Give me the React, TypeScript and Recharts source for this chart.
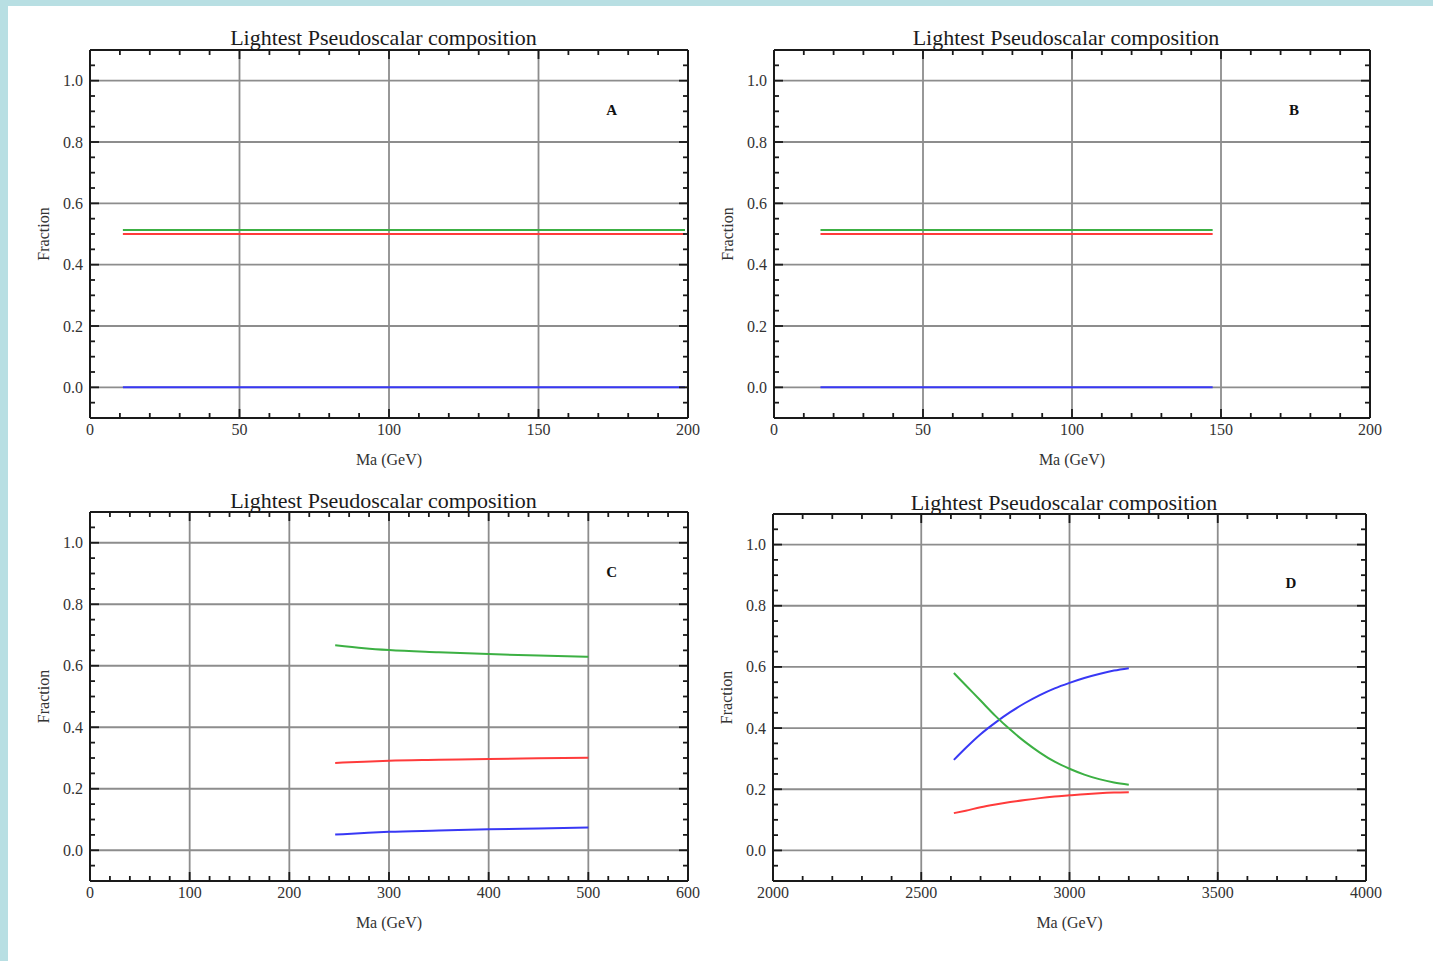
import React from 'react';
import { LineChart, Line, XAxis, YAxis, CartesianGrid, ReferenceDot } from 'recharts';

const SERIF = '"Liberation Serif", "Times New Roman", serif';
const GREEN = '#3cb043';
const RED = '#ff3b3b';
const BLUE = '#3838f5';
const FRAME = '#1a1a1a';
const GRID = '#8d8d8d';
const TEXT = '#333333';
const PAGE_EDGE = '#b8dfe3';

const TITLE = 'Lightest Pseudoscalar composition';
const X_LABEL = 'Ma (GeV)';
const Y_LABEL = 'Fraction';

// Fraction axis, shared by all four panels
const fracMajor = [0, 0.2, 0.4, 0.6, 0.8, 1.0];
const fracMinor = [-0.05, 0.05, 0.1, 0.15, 0.25, 0.3, 0.35, 0.45, 0.5, 0.55, 0.65, 0.7, 0.75, 0.85, 0.9, 0.95, 1.05];

// Panel A
const maA = [11, 199];
const greenA = [0.513, 0.513];
const redA = [0.5, 0.5];
const blueA = [0, 0];
const xMajorA = [0, 50, 100, 150, 200];
const xMinorA = [10, 20, 30, 40, 60, 70, 80, 90, 110, 120, 130, 140, 160, 170, 180, 190];

// Panel B
const maB = [15.6, 147.2];
const greenB = [0.513, 0.513];
const redB = [0.5, 0.5];
const blueB = [0, 0];
const xMajorB = [0, 50, 100, 150, 200];
const xMinorB = [10, 20, 30, 40, 60, 70, 80, 90, 110, 120, 130, 140, 160, 170, 180, 190];

// Panel C
const maC = [246, 275, 300, 350, 400, 450, 500];
const greenC = [0.667, 0.657, 0.651, 0.644, 0.638, 0.633, 0.629];
const redC = [0.284, 0.288, 0.291, 0.294, 0.297, 0.299, 0.301];
const blueC = [0.051, 0.056, 0.06, 0.064, 0.068, 0.071, 0.074];
const xMajorC = [0, 100, 200, 300, 400, 500, 600];
const xMinorC = [20, 40, 60, 80, 120, 140, 160, 180, 220, 240, 260, 280, 320, 340, 360, 380, 420, 440, 460, 480, 520, 540, 560, 580];

// Panel D
const maD = [2610, 2650, 2700, 2750, 2800, 2850, 2900, 2950, 3000, 3050, 3100, 3150, 3200];
const greenD = [0.58, 0.54, 0.49, 0.44, 0.395, 0.355, 0.32, 0.29, 0.267, 0.248, 0.233, 0.222, 0.215];
const redD = [0.122, 0.13, 0.141, 0.15, 0.158, 0.165, 0.171, 0.176, 0.18, 0.184, 0.187, 0.189, 0.19];
const blueD = [0.296, 0.335, 0.38, 0.418, 0.452, 0.482, 0.508, 0.53, 0.548, 0.564, 0.577, 0.588, 0.596];
const xMajorD = [2000, 2500, 3000, 3500, 4000];
const xMinorD = [2100, 2200, 2300, 2400, 2600, 2700, 2800, 2900, 3100, 3200, 3300, 3400, 3600, 3700, 3800, 3900];

const rows = (xs: number[], ys: number[]) => xs.map((x, i) => ({ x, y: ys[i] }));

type Side = 'bottom' | 'top' | 'left' | 'right';

// Frame ticks point inward; only the bottom and left ones carry labels
const makeTick = (side: Side, major: number[], fmt?: (v: number) => string) => (props: any) => {
  const { x, y, payload } = props;
  const v = payload.value as number;
  const isMajor = major.includes(v);
  const len = isMajor ? 9 : 5;
  const ln = { stroke: FRAME, strokeWidth: 1.8 };
  let line: React.ReactNode = null;
  let label: React.ReactNode = null;
  if (side === 'bottom') {
    line = <line x1={x} x2={x} y1={y} y2={y - len} {...ln} />;
    if (isMajor && fmt)
      label = (
        <text x={x} y={y + 17} textAnchor="middle" fontSize={16} fill={TEXT} fontFamily={SERIF}>
          {fmt(v)}
        </text>
      );
  } else if (side === 'top') {
    line = <line x1={x} x2={x} y1={y} y2={y + len} {...ln} />;
  } else if (side === 'left') {
    line = <line x1={x} x2={x + len} y1={y} y2={y} {...ln} />;
    if (isMajor && fmt)
      label = (
        <text x={x - 7} y={y + 5.5} textAnchor="end" fontSize={16} fill={TEXT} fontFamily={SERIF}>
          {fmt(v)}
        </text>
      );
  } else {
    line = <line x1={x} x2={x - len} y1={y} y2={y} {...ln} />;
  }
  return (
    <g>
      {line}
      {label}
    </g>
  );
};

type PanelProps = {
  box: { l: number; t: number; w: number; h: number };
  titleX: number;
  titleBaseline: number;
  xDomain: [number, number];
  xMajor: number[];
  xMinor: number[];
  ma: number[];
  green: number[];
  red: number[];
  blue: number[];
  tag: string;
  tagX: number;
  tagY: number;
  smooth: boolean;
};

// room to the right of the frame for the last x tick label
const RIGHT_PAD = 24;

function Panel(p: PanelProps) {
  const W = 60 + p.box.w + 1 + RIGHT_PAD;
  const H = 1 + p.box.h + 50;
  const xTicks = [...p.xMajor, ...p.xMinor].sort((a, b) => a - b);
  const yTicks = [...fracMajor, ...fracMinor].sort((a, b) => a - b);
  const curve = p.smooth ? 'monotone' : 'linear';
  const axisLine = { stroke: FRAME, strokeWidth: 2 };
  const fmtX = (v: number) => String(v);
  const fmtY = (v: number) => v.toFixed(1);
  return (
    <>
      <div
        style={{
          position: 'absolute',
          left: p.titleX - 250,
          width: 500,
          top: p.titleBaseline - 18.4,
          fontSize: 22,
          lineHeight: '22px',
          textAlign: 'center',
          fontFamily: SERIF,
          color: '#1b1b1b',
          whiteSpace: 'nowrap',
        }}
      >
        {TITLE}
      </div>
      <div style={{ position: 'absolute', left: p.box.l - 60, top: p.box.t - 1 }}>
        <LineChart width={W} height={H} margin={{ top: 0, right: RIGHT_PAD, bottom: 0, left: 0 }}>
          <CartesianGrid
            xAxisId="b"
            yAxisId="l"
            verticalValues={p.xMajor}
            horizontalValues={fracMajor}
            stroke={GRID}
            strokeWidth={1.8}
          />
          <XAxis
            xAxisId="b"
            type="number"
            dataKey="x"
            domain={p.xDomain}
            allowDataOverflow
            ticks={xTicks}
            interval={0}
            height={50}
            tickSize={0}
            tickMargin={0}
            tickLine={false}
            axisLine={axisLine}
            tick={makeTick('bottom', p.xMajor, fmtX)}
            label={{ value: X_LABEL, position: 'insideBottom', offset: 3, fontSize: 16, fill: TEXT, fontFamily: SERIF }}
          />
          <XAxis
            xAxisId="t"
            orientation="top"
            type="number"
            dataKey="x"
            domain={p.xDomain}
            allowDataOverflow
            ticks={xTicks}
            interval={0}
            height={1}
            tickSize={0}
            tickMargin={0}
            tickLine={false}
            axisLine={axisLine}
            tick={makeTick('top', p.xMajor)}
          />
          <YAxis
            yAxisId="l"
            type="number"
            domain={[-0.1, 1.1]}
            allowDataOverflow
            ticks={yTicks}
            interval={0}
            width={60}
            tickSize={0}
            tickMargin={0}
            tickLine={false}
            axisLine={axisLine}
            tick={makeTick('left', fracMajor, fmtY)}
            label={{
              value: Y_LABEL,
              angle: -90,
              position: 'insideLeft',
              offset: 13,
              fontSize: 16,
              fill: TEXT,
              fontFamily: SERIF,
              style: { textAnchor: 'middle' },
            }}
          />
          <YAxis
            yAxisId="r"
            orientation="right"
            type="number"
            domain={[-0.1, 1.1]}
            allowDataOverflow
            ticks={yTicks}
            interval={0}
            width={1}
            tickSize={0}
            tickMargin={0}
            tickLine={false}
            axisLine={axisLine}
            tick={makeTick('right', fracMajor)}
          />
          <Line
            xAxisId="b"
            yAxisId="l"
            data={rows(p.ma, p.blue)}
            dataKey="y"
            type={curve}
            stroke={BLUE}
            strokeWidth={2}
            dot={false}
            activeDot={false}
            isAnimationActive={false}
          />
          <Line
            xAxisId="b"
            yAxisId="l"
            data={rows(p.ma, p.red)}
            dataKey="y"
            type={curve}
            stroke={RED}
            strokeWidth={2}
            dot={false}
            activeDot={false}
            isAnimationActive={false}
          />
          <Line
            xAxisId="b"
            yAxisId="l"
            data={rows(p.ma, p.green)}
            dataKey="y"
            type={curve}
            stroke={GREEN}
            strokeWidth={2}
            dot={false}
            activeDot={false}
            isAnimationActive={false}
          />
          <ReferenceDot
            xAxisId="b"
            yAxisId="l"
            x={p.tagX}
            y={p.tagY}
            r={0}
            fill="none"
            stroke="none"
            label={{ value: p.tag, position: 'center', fontSize: 15, fontWeight: 700, fill: '#111', fontFamily: SERIF }}
          />
        </LineChart>
      </div>
    </>
  );
}

export default function App() {
  return (
    <div
      style={{
        position: 'absolute',
        left: 0,
        top: 0,
        width: 1433,
        height: 961,
        background: '#ffffff',
        overflow: 'hidden',
        fontFamily: SERIF,
      }}
    >
      <div style={{ position: 'absolute', left: 0, top: 0, width: 1433, height: 6, background: PAGE_EDGE }} />
      <div style={{ position: 'absolute', left: 0, top: 0, width: 8, height: 961, background: PAGE_EDGE }} />
      <Panel
        box={{ l: 90, t: 50, w: 598, h: 368 }}
        titleX={383.5}
        titleBaseline={45.7}
        xDomain={[0, 200]}
        xMajor={xMajorA}
        xMinor={xMinorA}
        ma={maA}
        green={greenA}
        red={redA}
        blue={blueA}
        tag="A"
        tagX={174.5}
        tagY={0.905}
        smooth={false}
      />
      <Panel
        box={{ l: 774, t: 50, w: 596, h: 368 }}
        titleX={1066}
        titleBaseline={45.7}
        xDomain={[0, 200]}
        xMajor={xMajorB}
        xMinor={xMinorB}
        ma={maB}
        green={greenB}
        red={redB}
        blue={blueB}
        tag="B"
        tagX={174.5}
        tagY={0.905}
        smooth={false}
      />
      <Panel
        box={{ l: 90, t: 512, w: 598, h: 369 }}
        titleX={383.5}
        titleBaseline={508}
        xDomain={[0, 600]}
        xMajor={xMajorC}
        xMinor={xMinorC}
        ma={maC}
        green={greenC}
        red={redC}
        blue={blueC}
        tag="C"
        tagX={523.5}
        tagY={0.905}
        smooth={true}
      />
      <Panel
        box={{ l: 773, t: 514, w: 593, h: 367 }}
        titleX={1064}
        titleBaseline={510}
        xDomain={[2000, 4000]}
        xMajor={xMajorD}
        xMinor={xMinorD}
        ma={maD}
        green={greenD}
        red={redD}
        blue={blueD}
        tag="D"
        tagX={3747}
        tagY={0.877}
        smooth={true}
      />
    </div>
  );
}
